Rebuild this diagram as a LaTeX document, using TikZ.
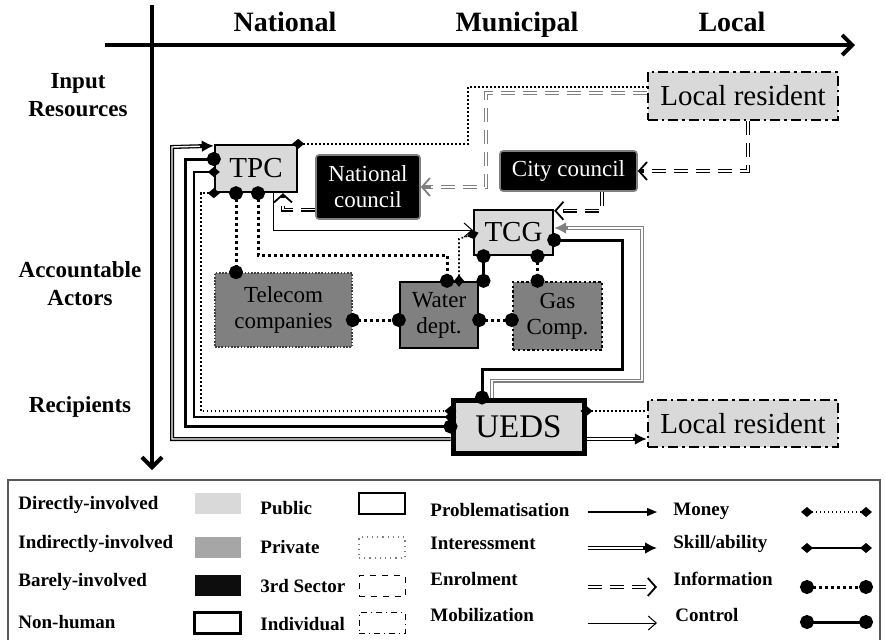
\documentclass[tikz,border=0pt]{standalone}
\usepackage{fontspec}
\setmainfont{Liberation Serif}
\usetikzlibrary{arrows.meta}
\definecolor{directg}{HTML}{D9D9D9}
\definecolor{indirg}{HTML}{808080}
\definecolor{indirkey}{HTML}{A6A6A6}
\definecolor{barelyk}{HTML}{0D0D0D}

\tikzset{
  gem/.tip={Diamond[length=6pt,width=5pt]},
  knob/.tip={Circle[length=7pt]},
  onedge/.style={shorten <=-#1,shorten >=-#1},
  % actors
  actor/.style={inner sep=0pt,align=center,font=\fontsize{11.5}{13}\selectfont},
  direct/.style={fill=directg},
  indirect/.style={fill=indirg},
  barely/.style={fill=black,text=white},
  public/.style={draw,line width=1.2pt},
  private/.style={draw,line width=1.2pt,dash pattern=on 1.2pt off 1.2pt},
  thirdsec/.style={draw=gray,line width=0.8pt,rounded corners=1.5pt},
  individual/.style={draw,line width=1.2pt,dash pattern=on 5pt off 2pt on 1.2pt off 2pt},
  nonhuman/.style={draw,line width=2.5pt},
  txtbig/.style={font=\fontsize{14.5}{17}\selectfont},
  txthuge/.style={font=\fontsize{16.5}{19}\selectfont},
  % translation moments
  problem/.style={line width=0.6pt,-{Triangle[length=5pt,width=4pt]}},
  interess/.style={line width=2pt,-{Latex[length=6pt,width=6pt]},
    postaction={draw=white,line width=0.7pt,-,shorten >=7pt}},
  enrol/.style={line width=1.9pt,dash pattern=on 7pt off 4pt,-{Straight Barb[length=4pt,width=9pt,line width=0.9pt]},
    postaction={draw=white,line width=0.6pt,-,shorten >=5pt}},
  mobil/.style={line width=0.5pt,-{Straight Barb[length=4pt,width=7pt]}},
  % relations
  moneyrel/.style={line width=0.8pt,dash pattern=on 0.8pt off 1.2pt,gem-gem,onedge=3pt},
  moneyone/.style={moneyrel,gem-,shorten >=0pt},
  skillrel/.style={line width=1.2pt,gem-gem,onedge=3pt},
  inforel/.style={line width=1.5pt,dash pattern=on 1.5pt off 1.5pt,knob-knob,onedge=3.5pt},
  ctrlrel/.style={line width=1.5pt,knob-knob,onedge=3.5pt},
  axislabel/.style={font=\bfseries\fontsize{14}{16}\selectfont,anchor=base},
  rowlabel/.style={font=\bfseries\fontsize{11.5}{14}\selectfont,align=center},
  keytext/.style={font=\bfseries\fontsize{9.5}{11}\selectfont,anchor=west,inner sep=0pt},
  swatch/.style={minimum width=23pt,minimum height=10.5pt,inner sep=0pt}
}

\begin{document}
\begin{tikzpicture}[x=0.5pt,y=0.5pt]
\useasboundingbox (0,0) rectangle (885,-639);

% axes
\draw[line width=2pt,-{Straight Barb[length=5pt,width=10pt]}] (105,-45) -- (855,-45);
\draw[line width=2pt,-{Straight Barb[length=5pt,width=10pt]}] (152,-5) -- (152,-470);
\node[axislabel] (hnat) at (285,-31) {National};
\node[axislabel] (hmun) at (517,-31) {Municipal};
\node[axislabel] (hloc) at (732,-31) {Local};
\node[rowlabel] (rin) at (78,-95) {Input\\Resources};
\node[rowlabel] (ract) at (80,-284) {Accountable\\Actors};
\node[rowlabel] (rrec) at (80,-407) {Recipients};

% actors
\node[actor,direct,individual,txtbig,minimum width=95pt,minimum height=24pt] (lrtop) at (743,-96) {Local resident};
\node[actor,direct,public,txtbig,minimum width=41pt,minimum height=23.5pt] (tpc) at (256,-168.5) {TPC};
\node[actor,barely,thirdsec,minimum width=52pt,minimum height=32pt] (ncouncil) at (368,-187) {National\\council};
\node[actor,barely,thirdsec,minimum width=68.5pt,minimum height=20pt] (ccouncil) at (568.5,-171) {City council};
\node[actor,direct,public,txtbig,minimum width=39.5pt,minimum height=22.5pt] (tcg) at (513.5,-232.5) {TCG};
\node[actor,indirect,draw=black!75,line width=0.8pt,dash pattern=on 0.8pt off 0.8pt,minimum width=68.5pt,minimum height=37pt] (telecom) at (283.5,-310) {Telecom\\companies};
\node[actor,indirect,public,minimum width=39pt,minimum height=33pt] (water) at (439,-315) {Water\\dept.};
\node[actor,indirect,private,minimum width=44.5pt,minimum height=34pt] (gas) at (557.5,-316) {Gas\\Comp.};
\node[actor,direct,nonhuman,txthuge,minimum width=65.5pt,minimum height=26.5pt] (ueds) at (518.5,-426.5) {UEDS};
\node[actor,direct,individual,txtbig,minimum width=95pt,minimum height=23.5pt] (lrbot) at (743,-423.5) {Local resident};

% ports
\coordinate (tpcA) at ([xshift=-10pt]tpc.south);
\coordinate (tcgA) at ([xshift=-15pt]tcg.south);
\coordinate (tcgB) at ([xshift=12pt]tcg.south);

% connectors
\draw[moneyone] (tpc.north east) -| (468,-87) -- ([yshift=4.5pt]lrtop.west);
\draw[enrol,draw=gray] ([yshift=1.5pt]lrtop.west) -| (486,-187) -- (ncouncil.east);
\draw[enrol] ([xshift=2.5pt]lrtop.south) |- (ccouncil.east);
\draw[enrol] ([xshift=16.75pt]ccouncil.south) |- ([yshift=-1pt]tcg.north east);
\draw[enrol] ([yshift=5pt]ncouncil.south west) -| ([xshift=13.5pt]tpc.south);
\draw[mobil] ([xshift=8.5pt]tpc.south) |- ([yshift=1.25pt]tcg.west);
\draw[interess] ([yshift=-6.25pt]ueds.west) -| (172,-147) -- ([yshift=-1pt]tpc.north west);
\draw[ctrlrel] ([yshift=4.75pt]tpc.west) -- ++(-28,0) |- (ueds.west);
\draw[skillrel] ([yshift=-1.75pt]tpc.west) -- ++(-20,0) |- ([yshift=4.75pt]ueds.west);
\draw[moneyrel] (tpc.south west) -- ++(-13,0) |- ([yshift=7.75pt]ueds.west);
\draw[inforel] (tpcA) -- (tpcA |- telecom.north);
\draw[inforel] ([xshift=1pt]tpc.south) -- ++(0,-62) -| ([xshift=4pt]water.north);
\draw[moneyrel] ([xshift=10pt]water.north) -- ++(0,42) -- ([yshift=-1pt]tcg.west);
\draw[ctrlrel] (tcgA) -- (tcgA |- water.north);
\draw[inforel] (tcgB) -- (tcgB |- gas.north);
\draw[ctrlrel] ([yshift=-3.75pt]tcg.east) -- ++(68,0) -- ++(0,-129) -| ([xshift=-18.25pt]ueds.north);
\draw[interess,draw=gray] ([xshift=-13.25pt]ueds.north) -- ++(0,17) -- ++(150,0) |- ([yshift=2.25pt]tcg.east);
\draw[inforel] ([yshift=-5pt]telecom.east) -- ([yshift=-2.5pt]water.west);
\draw[inforel] ([yshift=-2.5pt]water.east) -- ([yshift=-2pt]gas.west);
\draw[moneyone] ([yshift=7.75pt]ueds.east) -- ([yshift=6.25pt]lrbot.west);
\draw[interess] ([yshift=-6.25pt]ueds.east) -- ([yshift=-7.75pt]lrbot.west);

% key
\draw[gray!70!black,line width=1pt] (8,-480) rectangle (880,-660);
\foreach \txt/\y [count=\i] in {Directly-involved/505,Indirectly-involved/544,Barely-involved/582,Non-human/622}
  \node[keytext] (ka\i) at (18,-\y) {\txt};
\foreach \txt/\y [count=\i] in {Public/508,Private/547,3rd Sector/586,Individual/624}
  \node[keytext] (kb\i) at (260,-\y) {\txt};
\foreach \txt/\y [count=\i] in {Problematisation/510,Interessment/543,Enrolment/579,Mobilization/615}
  \node[keytext] (kc\i) at (430,-\y) {\txt};
\foreach \txt/\y/\x [count=\i] in {Money/511/673,{Skill/ability}/544/673,Information/579/673,Control/615/675}
  \node[keytext] (kd\i) at (\x,-\y) {\txt};
\node[swatch,fill=directg] (sa1) at (217.5,-503) {};
\node[swatch,fill=indirkey] (sa2) at (217.5,-547) {};
\node[swatch,fill=barelyk] (sa3) at (217.5,-585.5) {};
\node[swatch,draw,line width=1.5pt] (sa4) at (217.5,-622.5) {};
\node[swatch,draw,line width=0.6pt] (sb1) at (382,-503.5) {};
\node[swatch,draw=gray,line width=0.6pt,dotted] (sb2) at (382,-547.5) {};
\node[swatch,draw,line width=0.5pt,dashed] (sb3) at (382,-586) {};
\node[swatch,draw,line width=0.5pt,dash dot] (sb4) at (382,-623) {};
\foreach \sty/\y [count=\i] in {problem/512,interess/548,enrol/587,mobil/623} {
  \coordinate (pa\i) at (588,-\y);
  \coordinate (pb\i) at (657,-\y);
  \draw[\sty] (pa\i) -- (pb\i);
}
\foreach \sty/\y [count=\i] in {moneyrel/512,skillrel/548,inforel/587,ctrlrel/622} {
  \coordinate (ra\i) at (807,-\y);
  \coordinate (rb\i) at (866,-\y);
  \draw[\sty] (ra\i) -- (rb\i);
}
\end{tikzpicture}
\end{document}
